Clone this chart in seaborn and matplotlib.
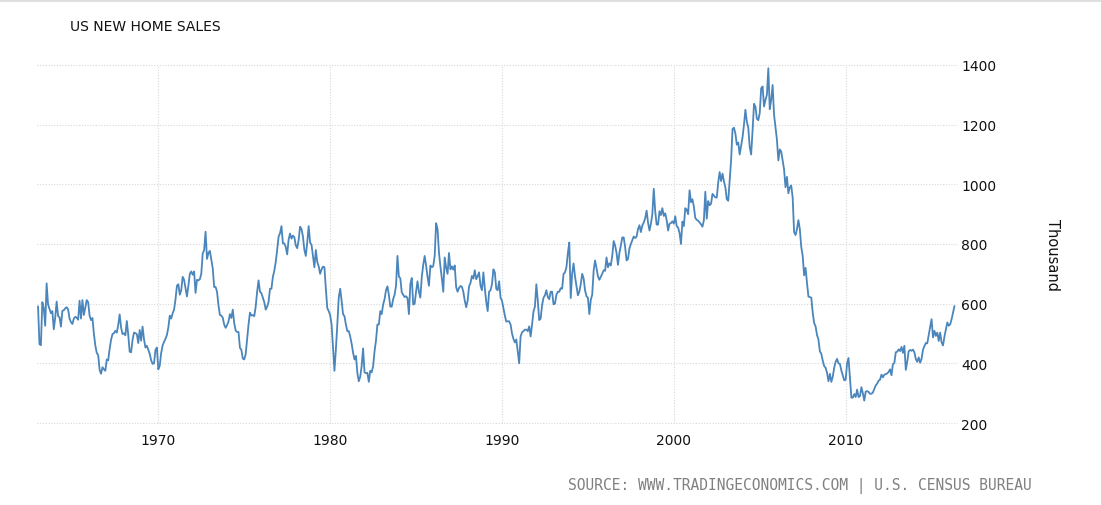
import numpy as np
import pandas as pd
import matplotlib
matplotlib.use("Agg")
import matplotlib.pyplot as plt
import seaborn as sns

# Monthly US new home sales (thousand, SAAR), Jan 1963 - May 2016
v1963 = [591, 464, 461, 605, 586, 526, 668, 597, 582, 568, 575, 514]
v1964 = [553, 607, 559, 554, 523, 576, 578, 584, 588, 581, 550, 538]
v1965 = [532, 550, 556, 553, 546, 610, 550, 612, 562, 588, 612, 605]
v1966 = [560, 545, 552, 500, 460, 435, 428, 378, 365, 387, 380, 375]
v1967 = [413, 410, 448, 479, 498, 501, 509, 503, 528, 564, 520, 498]
v1968 = [501, 494, 542, 495, 439, 437, 478, 503, 501, 498, 468, 512]
v1969 = [476, 523, 481, 453, 459, 446, 432, 410, 398, 400, 445, 453]
v1970 = [380, 392, 435, 460, 472, 482, 495, 520, 560, 550, 568, 580]
v1971 = [614, 660, 665, 630, 645, 690, 680, 652, 624, 660, 700, 708]
v1972 = [697, 708, 636, 680, 678, 682, 700, 768, 780, 841, 750, 770]
v1973 = [777, 747, 719, 656, 656, 640, 595, 562, 560, 553, 530, 519]
v1974 = [528, 540, 565, 552, 580, 535, 510, 505, 505, 452, 445, 416]
v1975 = [413, 430, 480, 530, 570, 560, 562, 558, 590, 640, 678, 640]
v1976 = [635, 620, 605, 580, 590, 606, 650, 650, 690, 710, 740, 780]
v1977 = [825, 836, 860, 802, 802, 790, 765, 815, 835, 818, 828, 823]
v1978 = [795, 786, 813, 858, 850, 825, 780, 760, 805, 860, 805, 797]
v1979 = [760, 722, 780, 740, 725, 700, 715, 724, 722, 650, 585, 575]
v1980 = [562, 530, 455, 375, 447, 530, 620, 650, 610, 565, 558, 530]
v1981 = [508, 508, 490, 466, 436, 413, 425, 368, 340, 355, 391, 450]
v1982 = [370, 367, 368, 338, 375, 370, 390, 440, 476, 530, 530, 575]
v1983 = [565, 597, 615, 645, 658, 630, 590, 590, 615, 630, 660, 760]
v1984 = [691, 685, 638, 630, 622, 625, 619, 565, 665, 686, 597, 600]
v1985 = [640, 675, 640, 620, 690, 730, 760, 728, 690, 660, 728, 722]
v1986 = [726, 760, 870, 850, 770, 725, 685, 640, 755, 720, 700, 770]
v1987 = [715, 725, 714, 728, 655, 640, 653, 659, 657, 640, 610, 588]
v1988 = [610, 658, 669, 693, 684, 712, 682, 692, 705, 660, 645, 705]
v1989 = [652, 607, 575, 640, 645, 665, 715, 705, 650, 645, 675, 620]
v1990 = [610, 585, 560, 540, 541, 541, 530, 500, 482, 470, 480, 440]
v1991 = [400, 490, 504, 508, 513, 513, 508, 524, 490, 530, 574, 590]
v1992 = [665, 610, 545, 550, 595, 620, 628, 645, 622, 615, 640, 640]
v1993 = [598, 600, 630, 640, 640, 652, 650, 700, 705, 722, 769, 805]
v1994 = [619, 700, 735, 691, 660, 628, 640, 665, 700, 685, 645, 625]
v1995 = [620, 565, 612, 630, 710, 745, 720, 692, 680, 690, 700, 712]
v1996 = [710, 755, 722, 735, 728, 760, 810, 795, 770, 730, 770, 795]
v1997 = [822, 822, 790, 745, 750, 785, 800, 812, 825, 820, 825, 850]
v1998 = [863, 840, 862, 872, 886, 912, 872, 845, 868, 900, 985, 910]
v1999 = [865, 865, 910, 897, 920, 894, 903, 880, 845, 868, 870, 876]
v2000 = [868, 893, 860, 855, 837, 800, 875, 860, 920, 915, 900, 980]
v2001 = [940, 950, 925, 887, 881, 878, 872, 866, 858, 880, 975, 885]
v2002 = [944, 930, 935, 968, 962, 956, 956, 1006, 1041, 1011, 1036, 1010]
v2003 = [990, 950, 945, 1015, 1080, 1185, 1190, 1170, 1133, 1140, 1100, 1130]
v2004 = [1158, 1200, 1250, 1210, 1190, 1125, 1100, 1180, 1270, 1260, 1220, 1215]
v2005 = [1239, 1322, 1328, 1261, 1283, 1300, 1389, 1252, 1283, 1333, 1233, 1190]
v2006 = [1150, 1080, 1117, 1110, 1080, 1050, 990, 1025, 970, 990, 996, 955]
v2007 = [840, 830, 850, 880, 850, 790, 760, 695, 720, 670, 624, 622]
v2008 = [620, 570, 535, 524, 495, 480, 440, 432, 409, 391, 385, 368]
v2009 = [340, 365, 338, 355, 385, 405, 415, 400, 398, 376, 359, 343]
v2010 = [345, 400, 418, 350, 285, 285, 297, 287, 312, 287, 290, 320]
v2011 = [300, 275, 305, 307, 304, 298, 298, 302, 314, 326, 332, 342]
v2012 = [345, 362, 353, 362, 364, 366, 371, 380, 360, 397, 401, 437]
v2013 = [439, 447, 441, 455, 435, 459, 378, 405, 440, 445, 442, 446]
v2014 = [437, 414, 405, 420, 402, 415, 445, 458, 468, 467, 495, 522]
v2015 = [548, 487, 509, 492, 503, 475, 503, 470, 460, 490, 514, 537]
v2016 = [526, 531, 548, 570, 592]

yearly = [v1963, v1964, v1965, v1966, v1967, v1968, v1969, v1970, v1971, v1972,
          v1973, v1974, v1975, v1976, v1977, v1978, v1979, v1980, v1981, v1982,
          v1983, v1984, v1985, v1986, v1987, v1988, v1989, v1990, v1991, v1992,
          v1993, v1994, v1995, v1996, v1997, v1998, v1999, v2000, v2001, v2002,
          v2003, v2004, v2005, v2006, v2007, v2008, v2009, v2010, v2011, v2012,
          v2013, v2014, v2015, v2016]

x_ticks = [1970, 1980, 1990, 2000, 2010]
y_ticks = [200, 400, 600, 800, 1000, 1200, 1400]

title = "US NEW HOME SALES"
unit_label = "Thousand"
source = "SOURCE: WWW.TRADINGECONOMICS.COM | U.S. CENSUS BUREAU"

values = np.concatenate([np.array(v, dtype=float) for v in yearly])
time = 1963 + np.arange(len(values)) / 12.0
df = pd.DataFrame({"time": time, "sales": values})

sns.set_theme(style="white")
plt.rcParams["font.family"] = ["DejaVu Sans"]

fig = plt.figure(figsize=(11.01, 5.06), dpi=100)
ax = fig.add_axes([37 / 1101, 1 - 424 / 506, 920 / 1101, 358 / 506])

sns.lineplot(data=df, x="time", y="sales", ax=ax, color="#4a85bb", linewidth=1.3)

ax.set_xlim(1962.94, 2016.48)
ax.set_ylim(200, 1400)
ax.set_xticks(x_ticks)
ax.set_xticklabels([str(t) for t in x_ticks])
ax.set_yticks(y_ticks)
ax.set_yticklabels([str(t) for t in y_ticks])
ax.yaxis.tick_right()
ax.tick_params(axis="y", length=0, pad=3, labelsize=10, labelcolor="#111111")
ax.tick_params(axis="x", length=0, pad=7, labelsize=10, labelcolor="#111111")
ax.set_xlabel("")
ax.set_ylabel("")
for s in ax.spines.values():
    s.set_visible(False)
ax.grid(True, color="#d8d8d8", linestyle=(0, (1, 1.5)), linewidth=0.8)
for gl in ax.get_ygridlines() + ax.get_xgridlines():
    gl.set_clip_on(False)
ax.set_axisbelow(True)

fig.text(70 / 1101, 1 - 27 / 506, title, fontsize=10, color="#111111",
         ha="left", va="center")
fig.text(1052 / 1101, 1 - 255 / 506, unit_label, fontsize=10.5, color="#111111",
         rotation=-90, ha="center", va="center")
fig.text(1032 / 1101, 1 - 486 / 506, source, fontsize=10.5, color="#808080",
         family="DejaVu Sans Mono", ha="right", va="center")

# thin top border line
fig.add_artist(plt.Line2D([0, 1], [1 - 1 / 506, 1 - 1 / 506], transform=fig.transFigure,
                          color="#dddddd", linewidth=2))

fig.savefig("out.png", dpi=100)
